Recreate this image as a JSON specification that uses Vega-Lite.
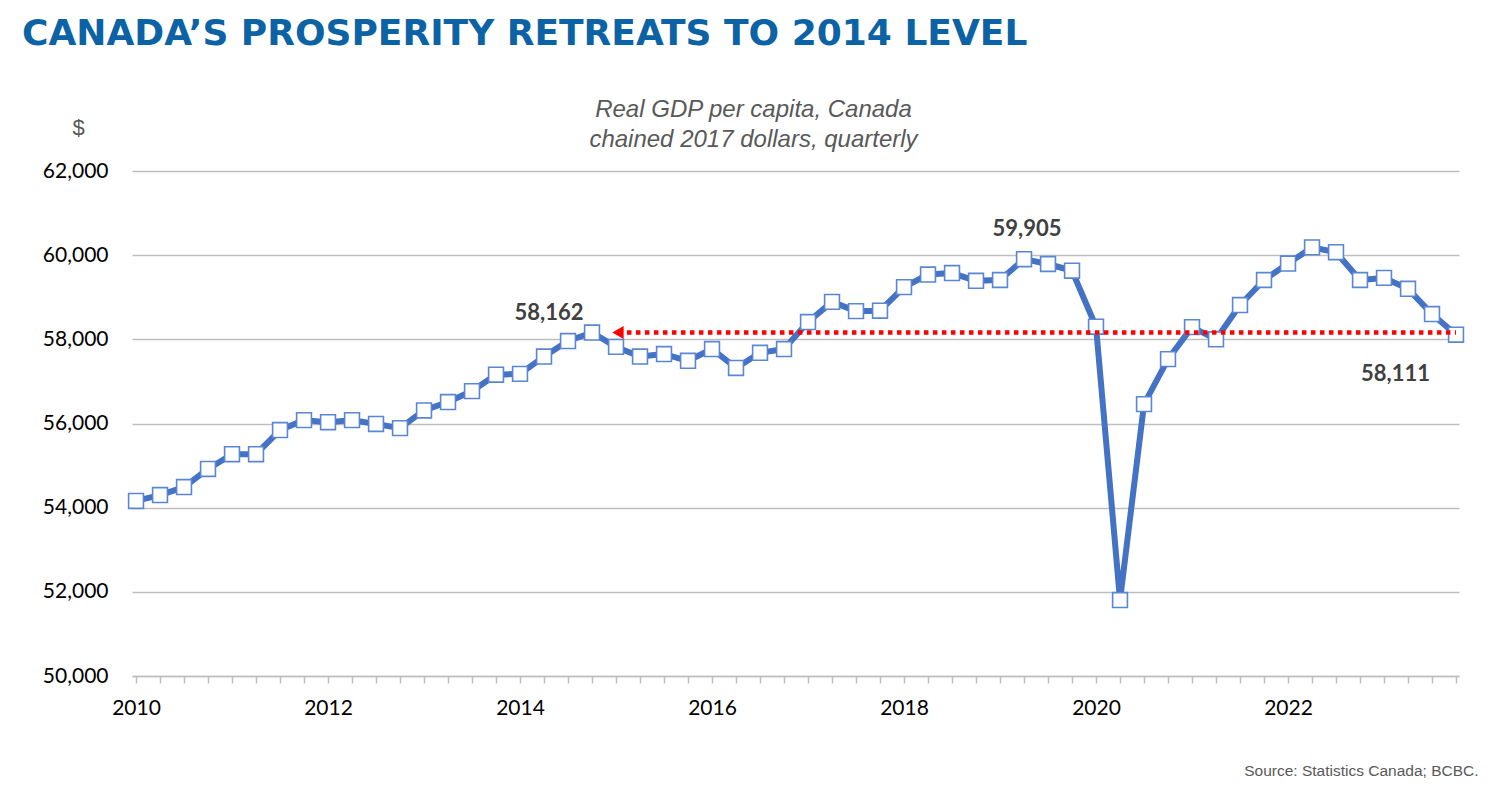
{
  "$schema": "https://vega.github.io/schema/vega-lite/v6.json",
  "autosize": {"type": "none"},
  "width": 1327,
  "height": 505,
  "padding": {"left": 132, "top": 171, "right": 41, "bottom": 112},
  "background": "white",
  "config": {"view": {"stroke": null}},
  "title": {
    "text": "CANADA’S PROSPERITY RETREATS TO 2014 LEVEL",
    "anchor": "start",
    "frame": "group",
    "dx": -110,
    "offset": 44,
    "font": "DejaVu Sans",
    "fontWeight": "bold",
    "fontSize": 36,
    "color": "#0B62A4"
  },
  "datasets": {
    "gdp": [
      {"t": 2010.00, "v": 54160}, {"t": 2010.25, "v": 54300}, {"t": 2010.50, "v": 54490}, {"t": 2010.75, "v": 54920},
      {"t": 2011.00, "v": 55270}, {"t": 2011.25, "v": 55270}, {"t": 2011.50, "v": 55845}, {"t": 2011.75, "v": 56080},
      {"t": 2012.00, "v": 56030}, {"t": 2012.25, "v": 56080}, {"t": 2012.50, "v": 55990}, {"t": 2012.75, "v": 55890},
      {"t": 2013.00, "v": 56310}, {"t": 2013.25, "v": 56510}, {"t": 2013.50, "v": 56770}, {"t": 2013.75, "v": 57160},
      {"t": 2014.00, "v": 57180}, {"t": 2014.25, "v": 57590}, {"t": 2014.50, "v": 57960}, {"t": 2014.75, "v": 58162},
      {"t": 2015.00, "v": 57820}, {"t": 2015.25, "v": 57590}, {"t": 2015.50, "v": 57650}, {"t": 2015.75, "v": 57490},
      {"t": 2016.00, "v": 57770}, {"t": 2016.25, "v": 57320}, {"t": 2016.50, "v": 57680}, {"t": 2016.75, "v": 57770},
      {"t": 2017.00, "v": 58410}, {"t": 2017.25, "v": 58890}, {"t": 2017.50, "v": 58670}, {"t": 2017.75, "v": 58680},
      {"t": 2018.00, "v": 59240}, {"t": 2018.25, "v": 59540}, {"t": 2018.50, "v": 59575}, {"t": 2018.75, "v": 59390},
      {"t": 2019.00, "v": 59410}, {"t": 2019.25, "v": 59905}, {"t": 2019.50, "v": 59790}, {"t": 2019.75, "v": 59630},
      {"t": 2020.00, "v": 58300}, {"t": 2020.25, "v": 51805}, {"t": 2020.50, "v": 56460}, {"t": 2020.75, "v": 57530},
      {"t": 2021.00, "v": 58290}, {"t": 2021.25, "v": 58000}, {"t": 2021.50, "v": 58815}, {"t": 2021.75, "v": 59410},
      {"t": 2022.00, "v": 59800}, {"t": 2022.25, "v": 60185}, {"t": 2022.50, "v": 60070}, {"t": 2022.75, "v": 59410},
      {"t": 2023.00, "v": 59460}, {"t": 2023.25, "v": 59200}, {"t": 2023.50, "v": 58600}, {"t": 2023.75, "v": 58111}
    ],
    "level": [
      {"t": 2015.02, "t2": 2023.75, "v": 58162}
    ]
  },
  "encoding": {
    "x": {
      "field": "t",
      "type": "quantitative",
      "scale": {"domain": [2009.958, 2023.781], "nice": false, "zero": false},
      "axis": {
        "values": [2010, 2010.25, 2010.5, 2010.75, 2011, 2011.25, 2011.5, 2011.75, 2012, 2012.25, 2012.5, 2012.75, 2013, 2013.25, 2013.5, 2013.75, 2014, 2014.25, 2014.5, 2014.75, 2015, 2015.25, 2015.5, 2015.75, 2016, 2016.25, 2016.5, 2016.75, 2017, 2017.25, 2017.5, 2017.75, 2018, 2018.25, 2018.5, 2018.75, 2019, 2019.25, 2019.5, 2019.75, 2020, 2020.25, 2020.5, 2020.75, 2021, 2021.25, 2021.5, 2021.75, 2022, 2022.25, 2022.5, 2022.75, 2023, 2023.25, 2023.5, 2023.75],
        "labelExpr": "datum.value % 2 === 0 ? format(datum.value, 'd') : ''",
        "labelFlush": false,
        "labelOverlap": false,
        "grid": false,
        "domainColor": "#BFBFBF",
        "domainWidth": 1.5,
        "tickColor": "#BFBFBF",
        "tickWidth": 1.5,
        "tickSize": 7,
        "labelFont": "Lato",
        "labelFontSize": 21,
        "labelColor": "#000000",
        "labelPadding": 14,
        "title": "Source: Statistics Canada; BCBC.",
        "titleX": 1346,
        "titleY": 99,
        "titleAlign": "right",
        "titleAnchor": "end",
        "titleBaseline": "alphabetic",
        "titleFont": "Liberation Sans",
        "titleFontSize": 15.5,
        "titleFontWeight": "normal",
        "titleColor": "#595959"
      }
    }
  },
  "layer": [
    {
      "data": {"name": "gdp"},
      "encoding": {
        "y": {
          "field": "v",
          "type": "quantitative",
          "scale": {"domain": [50000, 62000], "nice": false, "zero": false},
          "axis": {
            "values": [50000, 52000, 54000, 56000, 58000, 60000, 62000],
            "format": ",d",
            "grid": true,
            "gridColor": "#BFBFBF",
            "gridWidth": 1.5,
            "domain": false,
            "ticks": false,
            "labelFont": "Lato",
            "labelFontSize": 21,
            "labelColor": "#000000",
            "labelPadding": 24,
            "title": "$",
            "titleAngle": 0,
            "titleX": -54,
            "titleY": -44,
            "titleAlign": "center",
            "titleBaseline": "middle",
            "titleFont": "Liberation Sans",
            "titleFontSize": 22,
            "titleFontWeight": "normal",
            "titleColor": "#595959"
          }
        }
      },
      "layer": [
        {
          "mark": {"type": "line", "color": "#4472C4", "strokeWidth": 6, "strokeJoin": "round"}
        },
        {
          "mark": {"type": "point", "shape": "square", "filled": true, "fill": "white", "stroke": "#5A86D2", "strokeWidth": 1.6, "size": 220, "opacity": 1}
        },
        {
          "transform": [{"filter": "datum.t === 2014.75"}],
          "mark": {"type": "text", "font": "Lato", "fontWeight": "bold", "fontSize": 22, "color": "#404040", "align": "center", "baseline": "alphabetic", "dx": -43, "dy": -13},
          "encoding": {
            "text": {"field": "v", "type": "quantitative", "format": ",d"}
          }
        },
        {
          "transform": [{"filter": "datum.t === 2019.25"}],
          "mark": {"type": "text", "font": "Lato", "fontWeight": "bold", "fontSize": 22, "color": "#404040", "align": "center", "baseline": "alphabetic", "dx": 3, "dy": -23},
          "encoding": {
            "text": {"field": "v", "type": "quantitative", "format": ",d"}
          }
        },
        {
          "transform": [{"filter": "datum.t === 2023.75"}],
          "mark": {"type": "text", "font": "Lato", "fontWeight": "bold", "fontSize": 22, "color": "#404040", "align": "right", "baseline": "alphabetic", "dx": -26, "dy": 46},
          "encoding": {
            "text": {"field": "v", "type": "quantitative", "format": ",d"}
          }
        },
        {
          "data": {"name": "level"},
          "mark": {"type": "point", "shape": "triangle-left", "filled": true, "color": "#FF0000", "size": 170, "opacity": 1}
        }
      ]
    },
    {
      "data": {"name": "level"},
      "mark": {"type": "rule", "color": "#FF0000", "strokeWidth": 4.5, "strokeDash": [4.5, 4.5]},
      "encoding": {
        "x2": {"field": "t2"},
        "y": {
          "field": "v",
          "type": "quantitative",
          "axis": {
            "orient": "right",
            "labels": false,
            "ticks": false,
            "domain": false,
            "grid": false,
            "title": ["Real GDP per capita, Canada", "chained 2017 dollars, quarterly"],
            "titleAngle": 0,
            "titleX": -706,
            "titleY": -55,
            "titleAlign": "center",
            "titleBaseline": "alphabetic",
            "titleLineHeight": 30,
            "titleFont": "Liberation Sans",
            "titleFontStyle": "italic",
            "titleFontSize": 24,
            "titleFontWeight": "normal",
            "titleColor": "#595959"
          }
        }
      }
    }
  ],
  "resolve": {"axis": {"y": "independent"}}
}
